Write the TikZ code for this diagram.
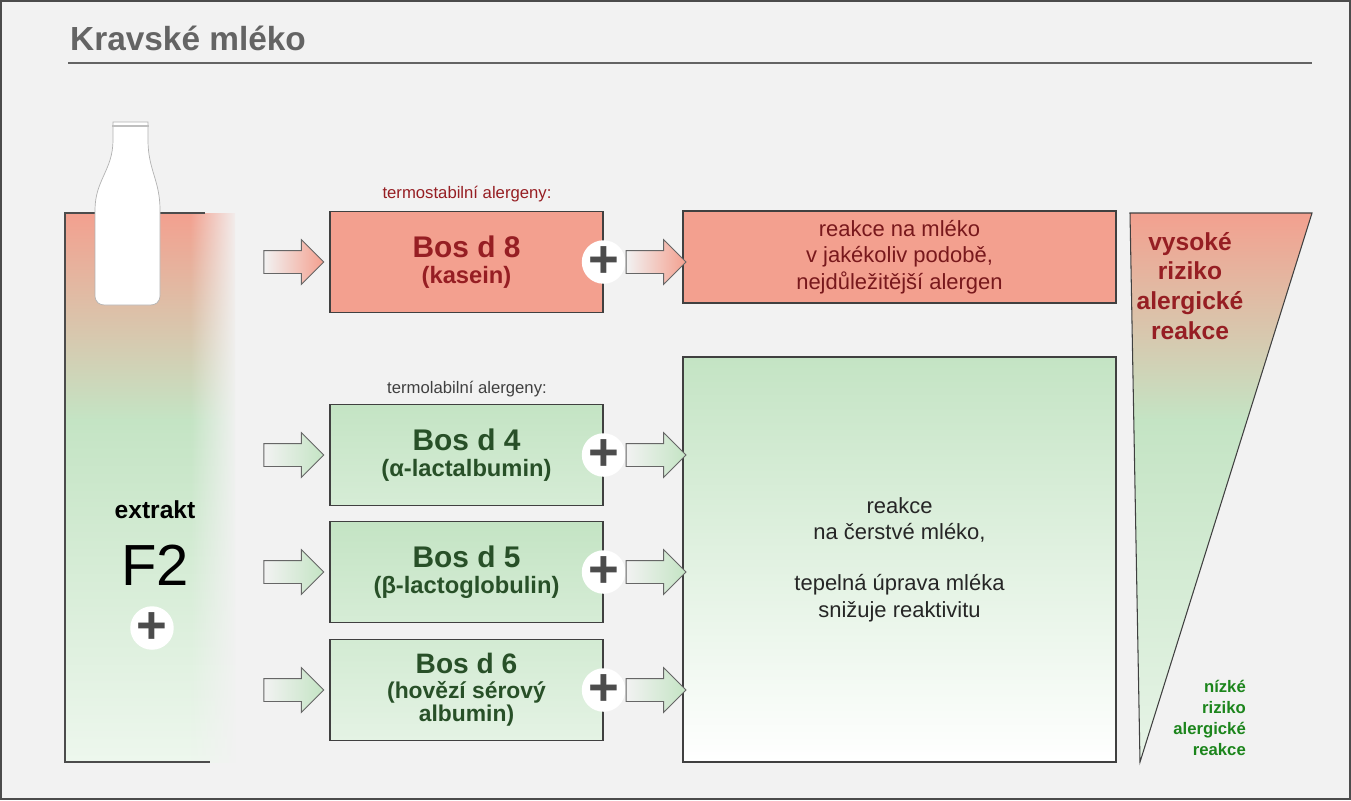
\documentclass[tikz,border=0pt]{standalone}
\usepackage{fontspec}
\setmainfont{Liberation Sans}
\usetikzlibrary{shapes.arrows, positioning, calc, fadings}
\definecolor{bgray}{RGB}{242, 242, 242}
\definecolor{salmon}{RGB}{243, 160, 143}
\definecolor{mintgreen}{RGB}{196, 228, 196}
\definecolor{darkred}{RGB}{150, 30, 35}
\definecolor{darkgreen}{RGB}{40, 80, 40}
\definecolor{titlegray}{RGB}{100, 100, 100}

\begin{document}
\begin{tikzpicture}[
        x=0.2mm, y=-0.2mm,
        box/.style={rectangle, draw=black!75, line width=0.6pt, minimum width=54.6mm, minimum height=20.2mm, align=center, inner sep=0pt},
        redbox/.style={box, fill=salmon, text=darkred},
        greenbox/.style={box, top color=mintgreen, bottom color=mintgreen!70!white, text=darkgreen},
        sarrow/.style={single arrow, draw=black!60, line width=0.5pt, minimum height=12mm, inner xsep=0pt, inner ysep=2.2mm, single arrow head extend=2.2mm, left color=bgray, right color=#1},
        plus/.style={circle, fill=white, minimum size=7.4mm, inner sep=0pt, font=\fontsize{30}{30}\selectfont\bfseries, text=black!70},
        small/.style={font=\fontsize{9.5}{11}\selectfont}
    ]
        % Background
        \fill[bgray] (0,0) rectangle (1351,800);
        \draw[black!70, line width=0.6pt] (1,1) rectangle (1350,799);

        % Title
        \node[anchor=west, font=\fontsize{19}{22}\selectfont\bfseries, text=titlegray] (title) at (64,38) {Kravské mléko};
        \draw[titlegray, line width=0.8pt] (68,63) -- (1312,63);

        % Extract column
        \shade[top color=salmon, bottom color=mintgreen] (65,213) rectangle (235,420);
        \shade[top color=mintgreen, bottom color=mintgreen!30!white] (65,420) rectangle (235,762);
        \fill[bgray, path fading=west] (190,205) rectangle (238,770);
        \draw[black!70, line width=0.6pt] (205,213) -- (65,213) -- (65,762) -- (210,762);

        % Bottle
        \draw[black!30, fill=white] (113,122) -- (148,122) -- (148,140) .. controls (148,170) and (160,180) .. (160,210)
            -- (160,295) .. controls (160,303) and (155,305) .. (150,305) -- (105,305)
            .. controls (100,305) and (95,303) .. (95,295) -- (95,210) .. controls (95,180) and (113,170) .. (113,140) -- cycle;
        \draw[black!25, line width=1.5pt] (112,126) -- (149,126);

        \node[font=\fontsize{14}{16}\selectfont\bfseries] (extrakt) at (155,510) {extrakt};
        \node[font=\fontsize{33}{36}\selectfont] (f2) at (155,565) {F2};
        \node[plus] (p0) at (152,628) {+};

        % Allergen labels
        \node[small, text=darkred] (stab) at (467,194) {termostabilní alergeny:};
        \node[small, text=black!75] (lab) at (467,389) {termolabilní alergeny:};

        % Allergen boxes
        \node[redbox] (b8) at (466.5,262) {{\fontsize{17}{20}\selectfont\bfseries Bos d 8}\\[1mm]{\fontsize{13.5}{16}\selectfont\bfseries (kasein)}};
        \node[greenbox] (b4) at (466.5,455) {{\fontsize{17}{20}\selectfont\bfseries Bos d 4}\\[1mm]{\fontsize{13.5}{16}\selectfont\bfseries (α-lactalbumin)}};
        \node[greenbox] (b5) at (466.5,572) {{\fontsize{17}{20}\selectfont\bfseries Bos d 5}\\[1mm]{\fontsize{13.5}{16}\selectfont\bfseries (β-lactoglobulin)}};
        \node[greenbox, top color=mintgreen!75!white, bottom color=mintgreen!45!white] (b6) at (466.5,690) {{\fontsize{16}{17}\selectfont\bfseries Bos d 6}\\[0.8mm]{\fontsize{13}{15}\selectfont\bfseries (hovězí sérový}\\{\fontsize{13}{15}\selectfont\bfseries albumin)}};

        % Reaction boxes
        \node[box, fill=salmon, minimum width=86.6mm, minimum height=18.4mm, text=darkred!80!black, font=\fontsize{12.5}{15}\selectfont] (r8) at (899.5,257)
            {reakce na mléko\\v jakékoliv podobě,\\nejdůležitější alergen};
        \node[box, top color=mintgreen, bottom color=white, minimum width=86.6mm, minimum height=81mm, text=black!85, font=\fontsize{12.5}{15}\selectfont] (rg) at (899.5,559.5)
            {reakce\\na čerstvé mléko,\\[5mm]tepelná úprava mléka\\snižuje reaktivitu};

        % Risk wedge
        \shade[top color=salmon, bottom color=mintgreen] (1130,213) -- (1312,213) -- (1247,420) -- (1134,420) -- cycle;
        \shade[top color=mintgreen, bottom color=mintgreen!40!white] (1134,420) -- (1247,420) -- (1140,762) -- cycle;
        \draw[black!75, line width=0.6pt] (1130,213) -- (1312,213) -- (1140,762) -- cycle;
        \node[align=center, font=\fontsize{14}{17}\selectfont\bfseries, text=darkred] (high) at (1190,286) {vysoké\\riziko\\alergické\\reakce};
        \node[align=right, anchor=east, font=\fontsize{9.5}{12}\selectfont\bfseries, text=darkgreen!70!green] (low) at (1252,718) {nízké\\riziko\\alergické\\reakce};

        % Arrows into allergen boxes
        \node[sarrow=salmon, left=1mm of b8] (a8) {};
        \node[sarrow=mintgreen, left=1mm of b4] (a4) {};
        \node[sarrow=mintgreen, left=1mm of b5] (a5) {};
        \node[sarrow=mintgreen, left=1mm of b6] (a6) {};

        % Plus signs
        \node[plus] (p8) at (b8.east) {+};
        \node[plus] (p4) at (b4.east) {+};
        \node[plus] (p5) at (b5.east) {+};
        \node[plus] (p6) at (b6.east) {+};

        % Arrows into reaction boxes
        \node[sarrow=salmon, right=0mm of p8] (c8) {};
        \node[sarrow=mintgreen, right=0mm of p4] (c4) {};
        \node[sarrow=mintgreen, right=0mm of p5] (c5) {};
        \node[sarrow=mintgreen, right=0mm of p6] (c6) {};
    \end{tikzpicture}
\end{document}
